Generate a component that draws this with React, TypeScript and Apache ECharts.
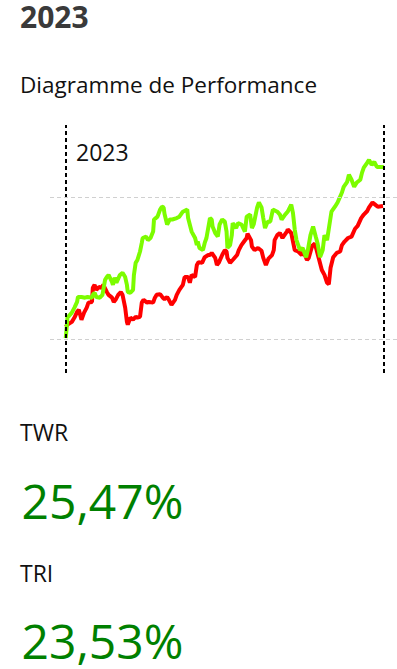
import React, { useEffect, useRef } from "react";
import * as echarts from "echarts";

// Year shown in the page header and inside the chart
const yearLabel = "2023";
const pageTitle = "Diagramme de Performance";

// KPI labels and values
const kpiLabels = ["TWR", "TRI"];
const kpiValues = ["25,47%", "23,53%"];

// Reference lines (percent)
const gridValues = [0, 20];

// Cumulative performance (% since 1 Jan), as [day of year, value]
const greenSeries: [number, number][] = [
  [0, 0.1], [1, 1.5], [2, 3.0], [7, 3.7], [10, 4.4], [13, 5.2], [14, 5.9], [18, 5.9], [22, 5.8], [25, 5.9],
  [30, 5.8], [31, 6.2], [33, 6.5], [35, 5.9], [39, 5.8], [42, 6.2], [45, 8.3], [47, 8.7], [49, 9.0], [53, 8.0],
  [54, 7.6], [56, 8.6], [58, 7.9], [62, 9.0], [65, 9.3], [68, 8.7], [70, 7.6], [71, 6.6], [74, 6.5], [77, 6.9],
  [78, 9.0], [80, 10.7], [82, 11.1], [85, 12.3], [87, 13.5], [88, 14.2], [92, 14.4], [94, 13.9], [97, 14.2], [100, 15.1],
  [101, 16.8], [103, 17.0], [105, 17.2], [108, 18.2], [110, 18.6], [112, 18.5], [113, 17.6], [116, 16.1], [119, 16.8], [122, 16.8],
  [127, 17.0], [130, 17.2], [134, 17.9], [139, 18.2], [140, 17.0], [144, 15.1], [148, 14.2], [150, 13.2], [151, 13.7], [153, 12.8],
  [157, 12.5], [159, 13.5], [161, 14.2], [165, 17.0], [167, 16.8], [168, 15.8], [171, 14.9], [174, 14.4], [176, 16.1], [179, 16.8],
  [182, 16.5], [184, 15.1], [185, 12.8], [188, 13.2], [190, 14.6], [191, 16.3], [195, 15.6], [197, 16.3], [201, 16.1], [205, 15.1],
  [207, 17.2], [211, 17.5], [213, 15.6], [215, 16.1], [219, 18.5], [221, 19.2], [224, 18.5], [226, 17.0], [228, 15.6], [231, 16.5],
  [234, 16.5], [237, 18.2], [242, 17.9], [245, 17.5], [247, 16.8], [251, 17.5], [254, 17.9], [258, 18.9], [260, 17.7], [262, 15.4],
  [264, 13.9], [268, 12.5], [271, 12.8], [275, 11.5], [277, 12.5], [280, 14.6], [283, 15.8], [286, 14.4], [288, 13.5], [291, 11.5],
  [294, 12.5], [296, 14.6], [299, 13.9], [302, 16.3], [304, 17.9], [308, 18.6], [311, 19.2], [316, 20.6], [318, 21.4], [322, 22.1],
  [324, 23.1], [327, 22.4], [330, 21.4], [333, 22.0], [337, 22.4], [339, 23.4], [341, 24.1], [345, 24.8], [347, 25.2], [350, 24.5],
  [353, 24.9], [356, 24.2], [359, 24.2], [364, 24.2],
];

const redSeries: [number, number][] = [
  [0, 1.7], [2, 2.0], [7, 2.4], [10, 3.0], [13, 3.8], [15, 4.1], [18, 2.7], [21, 3.7], [24, 4.4], [26, 5.1],
  [30, 5.2], [31, 7.2], [33, 7.6], [35, 6.9], [38, 7.3], [41, 7.2], [43, 7.6], [47, 6.6], [49, 6.2], [53, 5.8],
  [55, 5.2], [57, 5.5], [60, 6.2], [63, 6.6], [65, 6.2], [68, 4.4], [70, 2.4], [71, 2.0], [74, 3.0], [77, 2.7],
  [80, 3.1], [82, 3.0], [85, 3.1], [87, 5.1], [89, 5.5], [93, 5.1], [95, 5.2], [100, 5.1], [102, 5.8], [104, 6.2],
  [108, 6.3], [111, 5.8], [113, 5.6], [116, 5.9], [118, 5.5], [121, 4.8], [125, 5.5], [127, 6.2], [130, 6.9], [134, 7.6],
  [136, 8.7], [140, 8.7], [142, 7.9], [144, 9.0], [148, 8.7], [150, 10.4], [152, 10.8], [156, 10.7], [159, 11.5], [163, 11.8],
  [165, 11.8], [167, 12.1], [171, 11.4], [173, 10.4], [175, 10.7], [179, 11.8], [182, 12.5], [184, 12.3], [185, 11.4], [188, 10.7],
  [191, 11.1], [196, 11.8], [198, 12.5], [201, 13.2], [204, 13.7], [207, 14.2], [208, 14.8], [212, 13.9], [213, 13.0], [216, 12.5],
  [220, 12.8], [224, 12.4], [226, 11.4], [229, 10.4], [232, 11.3], [236, 11.8], [238, 12.5], [239, 13.9], [242, 14.6], [245, 14.9],
  [248, 14.2], [253, 15.1], [254, 15.4], [258, 14.9], [260, 13.7], [262, 12.5], [266, 12.3], [270, 11.8], [272, 12.3], [276, 11.1],
  [278, 11.4], [282, 13.1], [285, 13.4], [287, 12.5], [290, 11.1], [293, 9.7], [296, 9.0], [299, 7.9], [301, 7.7], [303, 10.0],
  [306, 11.5], [310, 12.1], [314, 12.3], [316, 13.2], [319, 13.7], [323, 14.2], [327, 14.4], [331, 15.5], [334, 15.9], [338, 17.0],
  [341, 17.5], [345, 18.0], [347, 18.5], [351, 19.2], [354, 18.9], [357, 18.6], [363, 18.7],
];

const DAY = 86400000;
const yearStart = Date.UTC(2023, 0, 1);
const yearEnd = Date.UTC(2023, 11, 31);
const toTime = (pts: [number, number][]) => pts.map(([d, v]) => [yearStart + d * DAY, v]);

const FONT = '"Open Sans", "Noto Sans", sans-serif';

export default function App() {
  const ref = useRef<HTMLDivElement>(null);

  useEffect(() => {
    if (!ref.current) return;
    const chart = echarts.init(ref.current, null, { renderer: "svg" });
    const text = (
      x: number,
      y: number,
      t: string,
      size: number,
      fill: string,
      weight = "normal",
      lineHeight?: number
    ) => ({
      type: "text",
      x,
      y,
      silent: true,
      style: {
        text: t,
        font: `${weight} ${size}px ${FONT}`,
        fill,
        align: "left",
        verticalAlign: "middle",
        lineHeight: lineHeight ?? Math.round(size * 1.2),
      },
    });
    chart.setOption({
      animation: false,
      grid: { left: 50, right: 0, top: 125, bottom: 296, containLabel: false },
      xAxis: {
        type: "time",
        min: yearStart - 18 * DAY,
        max: yearStart + 379 * DAY,
        show: false,
        splitLine: { show: false },
      },
      yAxis: {
        type: "value",
        min: -4.8,
        max: 30.1,
        show: false,
        splitLine: { show: false },
      },
      graphic: [
        text(20, 16.5, yearLabel, 30, "#3a3a3a", "bold", 28),
        text(20, 84, pageTitle, 22.5, "#111"),
        text(76, 151.5, yearLabel, 23, "#111"),
        text(20, 432, kpiLabels[0], 23, "#111"),
        text(21.5, 500.5, kpiValues[0], 48, "#008000", "normal", 40),
        text(20, 573, kpiLabels[1], 23, "#111"),
        text(21.5, 640.5, kpiValues[1], 48, "#008000", "normal", 40),
      ],
      series: [
        {
          name: "TRI",
          type: "line",
          data: toTime(redSeries),
          showSymbol: false,
          lineStyle: { color: "#ff0000", width: 4 },
          itemStyle: { color: "#ff0000" },
          markLine: {
            silent: true,
            symbol: "none",
            label: { show: false },
            lineStyle: { color: "#000", type: [4, 3], width: 2 },
            data: [{ xAxis: yearStart }, { xAxis: yearEnd }],
          },
        },
        {
          name: "TWR",
          type: "line",
          data: toTime(greenSeries),
          showSymbol: false,
          lineStyle: { color: "#7cfc00", width: 4 },
          itemStyle: { color: "#7cfc00" },
          markLine: {
            silent: true,
            symbol: "none",
            label: { show: false },
            lineStyle: { color: "#d0d0d0", type: [4, 3], width: 1 },
            data: gridValues.map((v) => ({ yAxis: v })),
          },
        },
      ],
    });
    return () => chart.dispose();
  }, []);

  return (
    <div
      ref={ref}
      style={{ position: "absolute", left: 0, top: 0, width: 397, height: 669 }}
    />
  );
}
